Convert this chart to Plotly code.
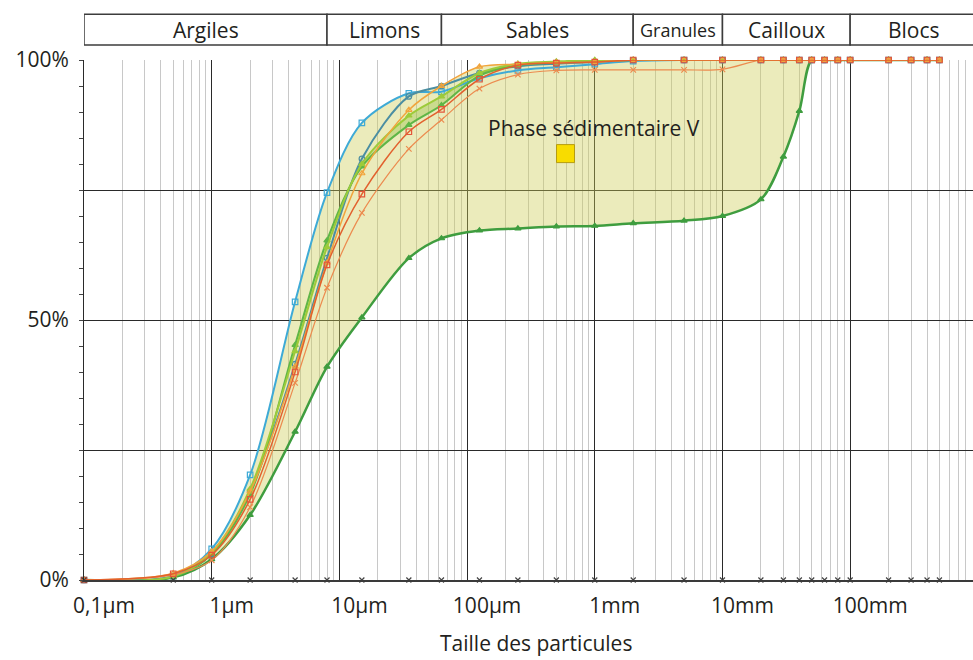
import math
import plotly.graph_objects as go

# ---------------- data ----------------
sizes_um = [0.1, 0.5, 1, 2, 4.5, 8, 15, 35, 63, 125, 250, 500, 1000, 2000, 5000,
            10000, 20000, 30000, 40000, 50000, 63000, 80000, 100000, 200000,
            300000, 400000, 500000]

cyan_sq = [0, 0.8, 6.0, 20.2, 53.5, 74.5, 87.9, 93.6, 93.9, 96.5, 98.0, 98.6, 99.2, 99.8] + [100] * 13
teal_circ = [0, 0.7, 5.0, 17.0, 41.5, 61.9, 81.0, 93.0, 95.0, 97.5, 98.8, 99.3, 99.6, 100] + [100] * 13
green_tri = [0, 0.6, 5.0, 16.5, 45.2, 65.3, 79.5, 87.5, 91.3, 97.0, 99.0, 99.5, 99.8, 100] + [100] * 13
lime_tri = [0, 0.7, 5.3, 17.5, 44.0, 64.0, 80.0, 89.3, 93.0, 97.5, 99.3, 99.7, 100, 100] + [100] * 13
orange_tri = [0, 1.3, 5.5, 17.0, 41.0, 61.0, 78.2, 90.4, 95.0, 98.7, 99.2, 99.5, 99.6, 100] + [100] * 13
orange_dark = [0, 1.2, 4.8, 15.5, 40.0, 60.6, 74.2, 86.2, 90.5, 96.3, 99.0, 99.4, 99.6, 100] + [100] * 13
orange_x = [0, 1.0, 3.8, 14.0, 37.9, 56.2, 70.6, 82.9, 88.5, 94.5, 97.2, 98.0, 98.1, 98.1, 98.1, 98.2] + [100] * 11
dark_green = [0, 0.5, 4.0, 12.5, 28.5, 41.0, 50.5, 61.9, 65.7, 67.2, 67.6, 68.0, 68.1, 68.6, 69.1,
              70.0, 73.2, 81.4, 90.2, 100, 100, 100, 100, 100, 100, 100, 100]

classes = ["Argiles", "Limons", "Sables", "Granules", "Cailloux", "Blocs"]
class_bounds_um = [0.1, 8, 63, 2000, 10000, 100000, 1e7]

tick_vals_um = [0.1, 1, 10, 100, 1000, 10000, 100000, 1000000]
tick_text = ["0,1µm", "1µm", "10µm", "100µm", "1mm", "10mm", "100mm", "1m"]

y_ticks = [0, 25, 50, 75, 100]
y_text = ["0%", "", "50%", "", "100%"]

label_text = "Phase sédimentaire V"
label_pos = (990, 87)      # µm, %
key_pos = (590, 82)        # µm, %

FONT = "Open Sans"
TXT = "#231f20"

# drawing order: last drawn is on top
series = [
    # values, line color, width, marker symbol, marker color
    (dark_green, "#3f9d3f", 2.5, "triangle-up", "#3f9d3f"),
    (cyan_sq, "#3eaad6", 2.0, "square-open", "#3eaad6"),
    (teal_circ, "#4b8ea2", 2.0, "circle-open", "#4b8ea2"),
    (green_tri, "#5fb646", 2.0, "triangle-up", "#5fb646"),
    (lime_tri, "#9dcb3a", 2.0, "triangle-up", "#9dcb3a"),
    (orange_x, "#ec8b4f", 1.2, "x-thin-open", "#ec8b4f"),
    (orange_tri, "#f1a43c", 1.5, "triangle-up-open", "#f1a43c"),
    (orange_dark, "#e2612e", 1.5, "square-open", "#e4563a"),
]

all_vals = [s[0] for s in series]
upper = [max(v[i] for v in all_vals) for i in range(len(sizes_um))]
lower = [min(v[i] for v in all_vals) for i in range(len(sizes_um))]

fig = go.Figure()

# envelope fill
fig.add_trace(go.Scatter(x=sizes_um, y=lower, mode="lines", line=dict(width=0, shape="spline", smoothing=0.9),
                         hoverinfo="skip", showlegend=False))
fig.add_trace(go.Scatter(x=sizes_um, y=upper, mode="lines", line=dict(width=0, shape="spline", smoothing=0.9),
                         fill="tonexty", fillcolor="rgba(204,206,84,0.40)", hoverinfo="skip", showlegend=False))
# inner overlap band
fig.add_trace(go.Scatter(x=sizes_um, y=green_tri, mode="lines", line=dict(width=0, shape="spline", smoothing=0.9),
                         hoverinfo="skip", showlegend=False))
fig.add_trace(go.Scatter(x=sizes_um, y=lime_tri, mode="lines", line=dict(width=0, shape="spline", smoothing=0.9),
                         fill="tonexty", fillcolor="rgba(140,190,60,0.35)", hoverinfo="skip", showlegend=False))

for vals, lc, lw, sym, mc in series:
    fig.add_trace(go.Scatter(
        x=sizes_um, y=vals, mode="lines+markers",
        line=dict(color=lc, width=lw, shape="spline", smoothing=0.9),
        marker=dict(symbol=sym, size=5.5, color=mc, line=dict(color=mc, width=1.2)),
        cliponaxis=False, showlegend=False))

# sample positions on the axis
fig.add_trace(go.Scatter(x=sizes_um, y=[0] * len(sizes_um), mode="markers",
                         marker=dict(symbol="x-thin-open", size=5, color="#444", line=dict(color="#444", width=1.2)),
                         cliponaxis=False, showlegend=False, hoverinfo="skip"))

# label + key
fig.add_trace(go.Scatter(x=[key_pos[0]], y=[key_pos[1]], mode="markers",
                         marker=dict(symbol="square", size=18, color="#f8dc00", line=dict(color="#b59c10", width=1)),
                         showlegend=False, hoverinfo="skip"))

fig.add_annotation(x=math.log10(label_pos[0]), y=label_pos[1], xref="x", yref="y", text=label_text,
                   showarrow=False, font=dict(family=FONT, size=21, color=TXT))

# header boxes
for i, name in enumerate(classes):
    a, b = class_bounds_um[i], class_bounds_um[i + 1]
    fig.add_shape(type="rect", xref="x", yref="paper", x0=a, x1=b, y0=1.029, y1=1.088,
                  line=dict(color="#3c3c3c", width=1.5), fillcolor="white", layer="above")
    bb = min(b, 1e6)
    mid = (math.log10(a) + math.log10(bb)) / 2
    fig.add_annotation(x=mid, y=1.0585, xref="x", yref="paper", text=name, showarrow=False,
                       yanchor="middle", xanchor="center",
                       font=dict(family=FONT, size=18 if name == "Granules" else 21, color=TXT))

fig.add_annotation(x=0.508, y=-0.122, xref="paper", yref="paper", text="Taille des particules",
                   showarrow=False, font=dict(family=FONT, size=21, color=TXT), yanchor="middle")

minor_vals = [m * 10 ** e for e in range(-1, 6) for m in range(2, 10)]

fig.update_xaxes(type="log", range=[-1, 5.962], tickvals=tick_vals_um, ticktext=tick_text,
                 showgrid=True, gridcolor="#2a2a2a", gridwidth=1,
                 minor=dict(tickvals=minor_vals, showgrid=True, gridcolor="#c8c8c8", gridwidth=1, ticks=""),
                 showline=True, linecolor="#3a3a3a", linewidth=1.5, ticks="",
                 ticklabelshift=20, ticklabelstandoff=6, automargin=False,
                 tickfont=dict(family=FONT, size=21, color=TXT), zeroline=False)
fig.update_yaxes(range=[0, 100], tickvals=y_ticks, ticktext=y_text, showgrid=True,
                 gridcolor="#2a2a2a", gridwidth=1, zeroline=False,
                 showline=True, linecolor="#2a2a2a", linewidth=1,
                 ticks="outside", ticklen=4, tickcolor="#444", automargin=False,
                 minor=dict(dtick=5, ticks="outside", ticklen=4, tickcolor="#444", showgrid=False),
                 tickfont=dict(family=FONT, size=21, color=TXT), ticklabelstandoff=6)

fig.update_layout(width=973, height=660, margin=dict(l=84, r=0, t=60, b=80),
                  plot_bgcolor="white", paper_bgcolor="white", showlegend=False,
                  font=dict(family=FONT, color=TXT))

fig.write_html("out.html", config={"displayModeBar": False},
               post_script="document.body.style.margin='0px';")
